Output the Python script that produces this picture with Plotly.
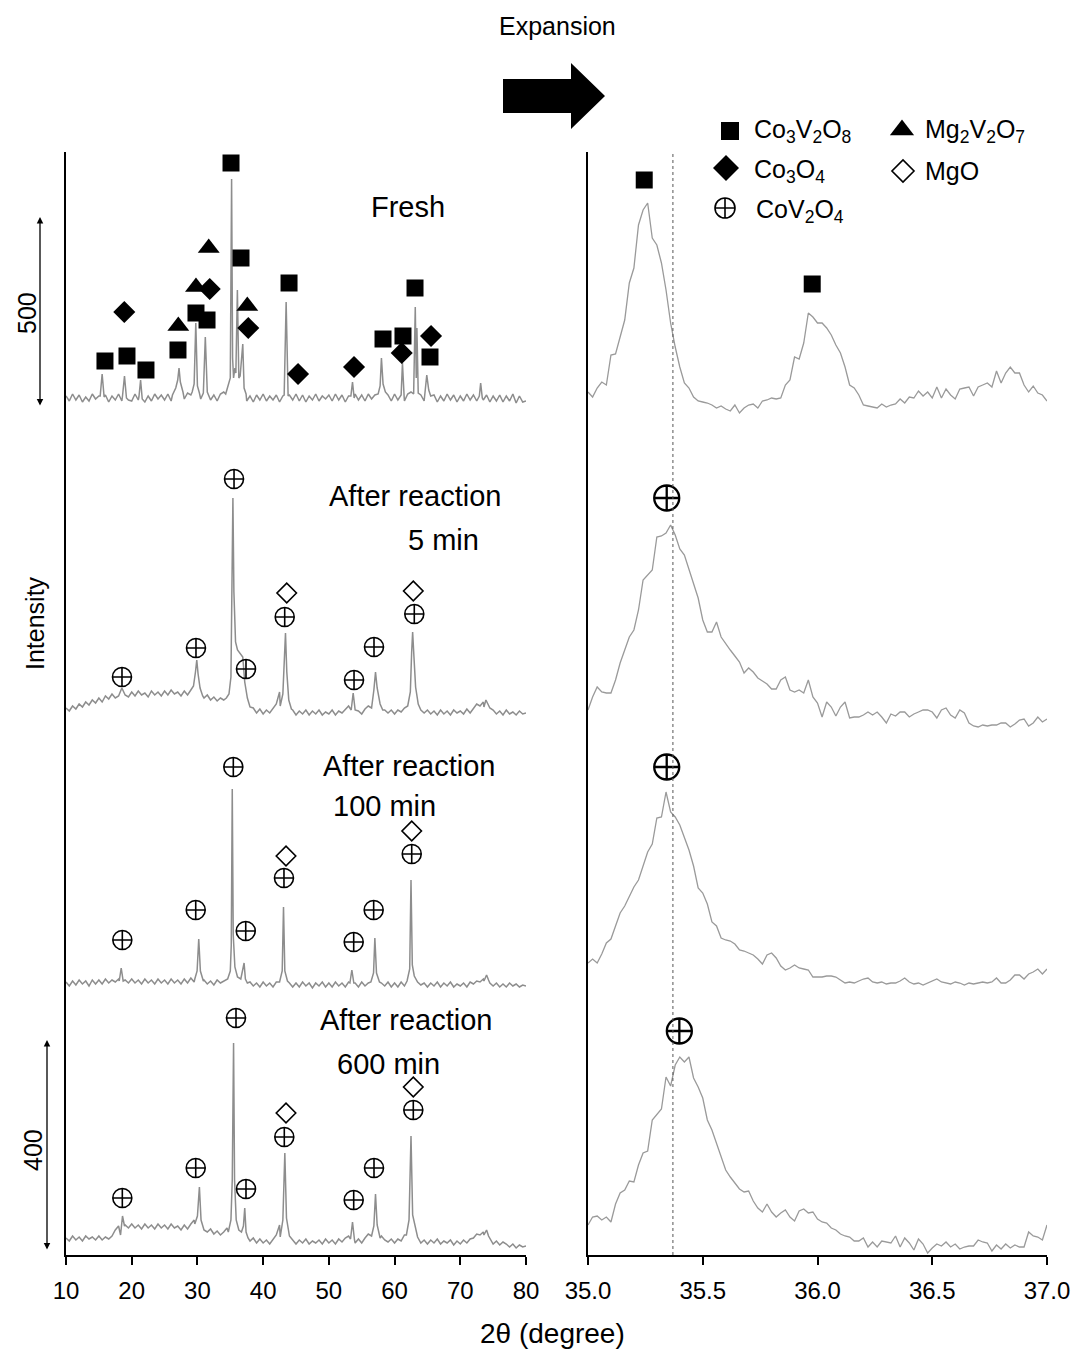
import numpy as np
import plotly.graph_objects as go

W, H = 1081, 1351
FONT = "Liberation Sans, Arial, sans-serif"

# ---------------- Left panel data (2θ 10–80°, intensity in a.u.) ----------------
grid_left = np.round(np.arange(10.0, 80.001, 0.5), 2)

fresh_base = [2, -3, 4, -2, 3, -4, 1, -3, 4, -1,
              2, -3, 3, -4, 2, -2, 4, -3, 3, -2,
              -3, 4, -2, 3, -4, 2, -3, 4, -1, 3,
              -2, 4, -3, 5, 6, 4, -1, 5, 3, 6,
              4, -1, 5, 2, -2, 3, -3, 4, 6, 3,
              8, 6, 4, -2, 3, -3, 2, -4, 3, -2,
              4, -3, 2, -2, 3, -4, 2, -3, 3, -2,
              4, -3, 3, -4, 2, -2, 4, -3, 2, -1,
              3, -3, 4, -2, 3, -4, 2, -3, 4, -2,
              3, -3, 4, -1, 3, 8, 4, -2, 3, -3,
              4, -2, 3, -3, 4, 6, 5, -2, 3, -3,
              4, -2, 3, -4, 2, -3, 4, -2, 3, -4,
              2, -3, 4, -2, 3, -3, 5, -2, 3, -4,
              2, -3, 3, -4, 2, -3, 4, -5, 2, -4,
              -3]
fresh_peaks = [
    [(15.2, 2), (15.5, 24), (15.8, 1)],
    [(18.6, 2), (18.9, 22), (19.2, 0)],
    [(21.1, 1), (21.35, 18), (21.6, -1)],
    [(26.2, 3), (26.7, 10), (27.0, 18), (27.2, 30), (27.4, 16), (27.8, 6)],
    [(29.2, 6), (29.5, 14), (29.75, 75), (30.0, 12), (30.3, 5)],
    [(30.9, 5), (31.2, 61), (31.5, 6)],
    [(34.3, 4), (34.7, 12), (35.0, 20), (35.2, 219), (35.35, 40), (35.5, 20), (35.7, 30),
     (35.85, 25), (36.08, 108), (36.3, 20), (36.5, 22), (36.9, 54), (37.1, 10), (37.4, 4)],
    [(43.2, 3), (43.5, 96), (43.8, 2)],
    [(53.35, 2), (53.6, 16), (53.85, 0)],
    [(57.5, 4), (57.8, 12), (58.0, 40), (58.25, 14), (58.6, 6)],
    [(61.0, 3), (61.2, 35), (61.45, 2)],
    [(62.9, 4), (63.15, 91), (63.3, 20), (63.4, 70), (63.6, 5)],
    [(64.6, 3), (64.9, 23), (65.2, 8), (65.5, 2)],
    [(72.9, 2), (73.1, 15), (73.35, 0)],
]

min5_base = [4, 1, 6, 3, 8, 5, 10, 7, 12, 9,
             14, 10, 16, 13, 18, 14, 20, 16, 19, 15,
             20, 16, 21, 17, 19, 15, 21, 17, 20, 16,
             21, 17, 22, 18, 20, 16, 21, 17, 24, 30,
             26, 18, 14, 17, 12, 15, 11, 14, 12, 16,
             30, 40, 25, 30, 8, 5, 2, 4, -1, 3,
             -2, 2, -1, 3, 8, 20, 4, 1, -2, 2,
             -3, 1, -2, 2, -3, 1, -2, 2, -3, 0,
             -2, 2, -3, 1, -1, 3, 6, 2, -2, 1,
             -2, 3, 6, 10, 22, 10, 5, 2, -1, 2,
             -2, 2, 0, 4, 10, 20, 12, 4, 1, -1,
             2, -2, 1, -3, 2, -2, 1, -3, 2, -1,
             1, -2, 3, -1, 4, 8, 6, 10, 7, 4,
             2, -2, 1, -3, 2, -2, 0, -3, 1, -2,
             -1]
min5_peaks = [
    [(18.0, 16), (18.5, 24), (19.0, 17)],
    [(29.0, 22), (29.4, 26), (29.7, 40), (29.9, 52), (30.1, 38), (30.4, 24), (30.8, 16)],
    [(34.4, 14), (34.8, 18), (35.1, 35), (35.3, 150), (35.4, 214), (35.55, 120), (35.8, 70),
     (36.1, 62), (36.5, 58), (36.9, 55), (37.2, 30), (37.6, 14), (38.0, 5)],
    [(42.6, 6), (43.0, 18), (43.25, 60), (43.4, 79), (43.6, 40), (43.9, 12), (44.3, 3)],
    [(53.4, 2), (53.7, 19), (54.0, 2)],
    [(56.5, 4), (56.85, 22), (57.1, 40), (57.35, 24), (57.8, 8), (58.2, 2)],
    [(62.0, 6), (62.4, 20), (62.6, 60), (62.75, 80), (62.95, 55), (63.2, 25), (63.6, 8), (64.0, 2)],
    [(73.6, 5), (73.9, 12), (74.2, 8)],
]

min100_base = [3, -1, 4, 0, 5, 1, 4, -1, 5, 1,
               5, 1, 6, 2, 5, 3, 6, 1, 5, 2,
               6, 2, 5, 1, 6, 2, 5, 1, 6, 2,
               5, 1, 6, 2, 5, 1, 6, 2, 7, 3,
               6, 2, 5, 1, 4, 0, 5, 2, 4, 6,
               10, 8, 5, 4, 3, -1, 3, -1, 2, -2,
               3, -1, 2, -2, 3, -1, 4, 0, 2, -2,
               2, -2, 3, -1, 2, -3, 2, -1, 3, -2,
               2, -2, 3, -1, 2, -2, 3, 0, 2, -2,
               3, -1, 2, 4, 10, 6, 2, -1, 3, -2,
               2, -2, 3, -1, 4, 5, 8, 3, 0, 2,
               -2, 2, -1, 3, -2, 2, -1, 3, -2, 1,
               -1, 2, -2, 3, 1, 4, 3, 6, 4, 2,
               -1, 2, -2, 1, -2, 2, -1, 1, -2, 0,
               -1]
min100_peaks = [
    [(18.1, 4), (18.4, 17), (18.7, 4)],
    [(29.6, 6), (29.95, 14), (30.2, 46), (30.45, 14), (30.9, 4)],
    [(34.6, 6), (35.0, 14), (35.15, 40), (35.3, 196), (35.45, 50), (35.7, 18), (36.1, 8),
     (36.6, 6), (36.9, 14), (37.1, 22), (37.3, 6), (37.6, 2)],
    [(42.5, 3), (42.9, 14), (43.1, 78), (43.3, 14), (43.7, 4)],
    [(53.2, 2), (53.5, 15), (53.8, 2)],
    [(56.4, 3), (56.8, 12), (57.0, 47), (57.25, 12), (57.7, 3)],
    [(61.9, 4), (62.3, 16), (62.5, 105), (62.7, 20), (63.0, 9), (63.5, 3)],
    [(73.6, 4), (74.0, 10), (74.3, 5)],
]

min600_base = [2, -1, 4, 0, 3, -1, 4, 1, 3, 0,
               4, 0, 3, 1, 4, 10, 14, 11, 15, 12,
               16, 12, 15, 11, 16, 12, 15, 11, 16, 12,
               15, 11, 16, 12, 14, 10, 15, 11, 16, 20,
               22, 14, 10, 8, 11, 6, 9, 5, 8, 12,
               20, 15, 8, 10, 6, 0, -1, 2, -3, 1,
               -3, 0, -4, 1, 5, 15, 3, -1, -4, 0,
               -4, 0, -3, 1, -4, -1, -3, 0, -4, 1,
               -3, 0, -4, 1, -2, 2, 4, 0, -3, 1,
               -3, 2, 6, 12, 20, 10, 4, 0, -2, 1,
               -3, 1, -1, 5, 12, 15, 6, 0, -3, 0,
               -4, 0, -3, 1, -4, -1, -3, 0, -5, -1,
               -4, 0, -3, 1, 2, 6, 5, 8, 6, 2,
               -4, -1, -5, -2, -4, -7, -4, -8, -5, -7,
               -6]
min600_peaks = [
    [(18.3, 5), (18.6, 24), (18.9, 14)],
    [(29.6, 16), (30.0, 24), (30.3, 53), (30.55, 20), (31.0, 10)],
    [(34.7, 8), (35.1, 20), (35.3, 60), (35.5, 197), (35.65, 60), (35.9, 20), (36.3, 10),
     (36.7, 8), (37.0, 14), (37.2, 32), (37.4, 8), (37.7, 2)],
    [(42.6, 3), (43.0, 20), (43.3, 87), (43.55, 22), (44.0, 4)],
    [(53.3, 1), (53.6, 18), (53.9, 0)],
    [(56.5, 4), (56.85, 14), (57.1, 46), (57.35, 15), (57.8, 2)],
    [(61.8, 5), (62.2, 20), (62.5, 104), (62.75, 25), (63.1, 15), (63.5, 3)],
    [(73.6, 5), (74.0, 10), (74.3, 4)],
]

left_offsets = [857, 543, 270, 15]

# ---------------- Right panel data (2θ 35–37°, step 0.02°) ----------------
grid_right = np.round(35.0 + 0.02 * np.arange(101), 2)

r_fresh = [23, 18, 27, 33, 30, 60, 61, 78, 95, 132,
           147, 190, 205, 212, 177, 170, 152, 125, 92, 68,
           48, 32, 27, 18, 14, 13, 12, 10, 7, 9,
           6, 4, 10, 2, 7, 10, 11, 7, 14, 15,
           17, 16, 17, 30, 35, 58, 56, 72, 102, 98,
           92, 92, 87, 80, 70, 62, 48, 30, 27, 20,
           10, 9, 8, 7, 11, 8, 10, 11, 16, 12,
           18, 17, 24, 19, 23, 17, 28, 17, 26, 20,
           16, 26, 27, 28, 19, 28, 30, 32, 28, 44,
           32, 42, 48, 42, 42, 30, 23, 29, 22, 20,
           14]
r_min5 = [25, 38, 48, 43, 42, 42, 55, 72, 85, 98,
          105, 125, 155, 160, 165, 198, 199, 202, 210, 200,
          186, 180, 165, 150, 137, 115, 103, 103, 113, 98,
          91, 85, 79, 73, 62, 67, 63, 57, 54, 51,
          46, 46, 55, 58, 45, 43, 45, 42, 55, 38,
          32, 18, 33, 28, 19, 28, 33, 17, 18, 18,
          20, 23, 20, 23, 18, 12, 21, 19, 23, 23,
          18, 21, 23, 25, 25, 23, 17, 25, 27, 20,
          17, 25, 22, 12, 9, 8, 10, 9, 10, 10,
          12, 12, 8, 11, 15, 16, 9, 12, 18, 13,
          16]
r_min100 = [37, 41, 37, 46, 57, 61, 74, 87, 94, 103,
            113, 120, 134, 148, 156, 182, 183, 208, 188, 183,
            175, 163, 150, 134, 112, 107, 96, 78, 74, 62,
            60, 59, 56, 50, 49, 47, 45, 41, 36, 45,
            47, 42, 34, 30, 32, 35, 32, 31, 30, 23,
            23, 23, 24, 24, 23, 20, 17, 18, 17, 19,
            21, 22, 18, 17, 18, 16, 17, 17, 19, 22,
            18, 16, 17, 15, 17, 19, 21, 18, 17, 16,
            18, 17, 15, 17, 16, 17, 18, 17, 18, 22,
            17, 17, 20, 25, 25, 21, 26, 28, 31, 26,
            31]
r_min600 = [30, 38, 39, 35, 38, 33, 51, 62, 65, 74,
            73, 90, 102, 104, 135, 140, 146, 178, 169, 190,
            198, 193, 198, 177, 168, 157, 135, 125, 112, 100,
            85, 78, 72, 66, 63, 64, 54, 47, 43, 51,
            43, 38, 42, 45, 38, 34, 44, 46, 42, 43,
            36, 33, 32, 27, 25, 21, 19, 18, 14, 14,
            17, 8, 13, 8, 14, 13, 12, 19, 8, 17,
            12, 5, 16, 11, 2, 7, 11, 9, 13, 8,
            11, 6, 8, 9, 9, 15, 13, 12, 4, 10,
            6, 11, 7, 10, 8, 8, 23, 19, 18, 15,
            30]
right_offsets = [840, 520, 255, 0]
ref_line_2theta = 35.37

# ---------------- Phase markers ----------------
co3v2o8_x = [15.93, 19.28, 22.17, 27.04, 29.78, 31.46, 35.11, 36.63, 43.94, 58.24, 61.28, 63.11, 65.39]
co3v2o8_y = [894, 899, 885, 905, 942, 935, 1092, 997, 972, 916, 919, 967, 898]
co3o4_x = [18.87, 31.87, 37.74, 45.31, 53.83, 61.09, 65.55]
co3o4_y = [943, 966, 927, 881, 888, 902, 919]
mg2v2o7_x = [27.09, 29.78, 31.72, 37.59]
mg2v2o7_y = [929, 968, 1007, 949]
cov2o4_x = [18.52, 29.78, 35.57, 37.39, 43.28, 53.83, 56.87, 63.0,
            18.57, 29.74, 35.46, 37.35, 43.17, 53.78, 56.82, 62.61,
            18.57, 29.74, 35.87, 37.39, 43.22, 53.78, 56.87, 62.85]
cov2o4_y = [578, 607, 776, 586, 638, 575, 608, 641,
            315, 345, 488, 324, 377, 313, 345, 401,
            57, 87, 237, 66, 118, 55, 87, 145]
mgo_x = [43.59, 62.85, 43.48, 62.61, 43.48, 62.85]
mgo_y = [662, 664, 399, 424, 142, 168]

r_co3v2o8_x = [35.245, 35.977]
r_co3v2o8_y = [1075, 971]
r_cov2o4_x = [35.343, 35.343, 35.398]
r_cov2o4_y = [757, 488, 224]

sample_labels = [("Fresh", 408, 207), ("After reaction", 415, 496), ("5 min", 443, 540),
                 ("After reaction", 409, 766), ("100 min", 384, 806),
                 ("After reaction", 406, 1020), ("600 min", 388, 1064)]


def build(base, peaks):
    spans = [(p[0][0], p[-1][0]) for p in peaks]
    pts = [(x, y) for x, y in zip(grid_left, base)
           if not any(a <= x <= b for a, b in spans)]
    for p in peaks:
        pts.extend(p)
    pts.sort()
    return [p[0] for p in pts], [p[1] for p in pts]


fig = go.Figure()

LC = "#8d8d8d"
for base, peaks, off in zip([fresh_base, min5_base, min100_base, min600_base],
                            [fresh_peaks, min5_peaks, min100_peaks, min600_peaks],
                            left_offsets):
    xs, ys = build(base, peaks)
    fig.add_trace(go.Scatter(x=xs, y=[v + off for v in ys], mode="lines",
                             line=dict(color=LC, width=1.5), xaxis="x", yaxis="y",
                             hoverinfo="skip", showlegend=False))

for vals, off in zip([r_fresh, r_min5, r_min100, r_min600], right_offsets):
    fig.add_trace(go.Scatter(x=grid_right, y=[v + off for v in vals], mode="lines",
                             line=dict(color="#9a9a9a", width=1.3), xaxis="x2", yaxis="y2",
                             hoverinfo="skip", showlegend=False))


def mk(x, y, symbol, size, ax="x", ay="y", lw=0):
    fig.add_trace(go.Scatter(
        x=x, y=y, mode="markers", xaxis=ax, yaxis=ay, cliponaxis=False,
        marker=dict(symbol=symbol, size=size, color="black",
                    line=dict(color="black", width=lw)),
        hoverinfo="skip", showlegend=False))


mk(co3v2o8_x, co3v2o8_y, "square", 17)
mk(co3o4_x, co3o4_y, "diamond", 17)
mk(mg2v2o7_x, mg2v2o7_y, "triangle-up", 19)
mk(cov2o4_x, cov2o4_y, "circle-cross-open", 19, lw=1.6)
mk(mgo_x, mgo_y, "diamond-open", 15, lw=1.6)
mk(r_co3v2o8_x, r_co3v2o8_y, "square", 17, ax="x2", ay="y2")
mk(r_cov2o4_x, r_cov2o4_y, "circle-cross-open", 25, ax="x2", ay="y2", lw=2.3)

# legend keys (overlay pixel axes)
mk([730], [131], "square", 18, ax="x3", ay="y3")
mk([902], [130], "triangle-up", 21, ax="x3", ay="y3")
mk([726], [168], "diamond", 20, ax="x3", ay="y3")
mk([903], [171], "diamond-open", 17, ax="x3", ay="y3", lw=1.6)
mk([725], [208], "circle-cross-open", 20, ax="x3", ay="y3", lw=1.6)

annotations = []


def txt(s, x, y, size=23, angle=0, xanchor="center"):
    annotations.append(dict(text=s, x=x, y=y, xref="x3", yref="y3", showarrow=False,
                            textangle=angle, xanchor=xanchor, yanchor="middle",
                            font=dict(family=FONT, size=size, color="black")))


for s, x, y in sample_labels:
    txt(s, x, y, size=29)

txt("Co<sub>3</sub>V<sub>2</sub>O<sub>8</sub>", 752, 131, size=25, xanchor="left")
txt("Mg<sub>2</sub>V<sub>2</sub>O<sub>7</sub>", 923, 131, size=25, xanchor="left")
txt("Co<sub>3</sub>O<sub>4</sub>", 752, 171, size=25, xanchor="left")
txt("MgO", 923, 171, size=25, xanchor="left")
txt("CoV<sub>2</sub>O<sub>4</sub>", 754, 211, size=25, xanchor="left")
txt("Expansion", 557, 26, size=25)
txt("2θ (degree)", 552, 1333, size=28)
txt("Intensity", 35, 623, size=25, angle=-90)
txt("500", 27, 313, size=25, angle=-90)
txt("400", 33, 1150, size=25, angle=-90)

for x, y0, y1 in [(40, 217, 407), (47, 1040, 1251)]:
    annotations.append(dict(text="", x=x, y=y0, ax=x, ay=y1, xref="x3", yref="y3",
                            axref="x3", ayref="y3", showarrow=True, arrowhead=2,
                            arrowside="end+start", arrowsize=1, arrowwidth=1.3,
                            arrowcolor="black"))

shapes = [
    dict(type="path", xref="x3", yref="y3",
         path="M 503 79 L 571 79 L 571 63 L 605 96 L 571 129 L 571 113 L 503 113 Z",
         fillcolor="black", line=dict(color="black", width=0)),
    dict(type="line", xref="x2", yref="y2", x0=ref_line_2theta, x1=ref_line_2theta,
         y0=0, y1=1103, line=dict(color="#555555", width=1, dash="dot")),
]

ydom = [96 / H, 1199 / H]
axis_common = dict(showgrid=False, zeroline=False, showline=True, linecolor="black",
                   linewidth=1.5, automargin=False)
tick_common = dict(ticks="outside", ticklen=8, tickwidth=1.5, tickcolor="black",
                   ticklabelstandoff=5, tickfont=dict(size=24, family=FONT, color="black"))
fig.update_layout(
    template="none",
    width=W, height=H, autosize=False,
    margin=dict(l=0, r=0, t=0, b=0, pad=0),
    paper_bgcolor="white", plot_bgcolor="rgba(0,0,0,0)",
    showlegend=False,
    font=dict(family=FONT, color="black"),
    xaxis=dict(domain=[66 / W, 526 / W], range=[10, 80], anchor="y",
               tickvals=[10, 20, 30, 40, 50, 60, 70, 80], **tick_common, **axis_common),
    yaxis=dict(domain=ydom, range=[0, 1103], anchor="x", showticklabels=False, ticks="",
               **axis_common),
    xaxis2=dict(domain=[588 / W, 1047 / W], range=[35, 37], anchor="y2",
                tickvals=[35, 35.5, 36, 36.5, 37],
                ticktext=["35.0", "35.5", "36.0", "36.5", "37.0"],
                **tick_common, **axis_common),
    yaxis2=dict(domain=ydom, range=[0, 1103], anchor="x2", showticklabels=False, ticks="",
                **axis_common),
    xaxis3=dict(domain=[0, 1], range=[0, W], anchor="y3", visible=False, automargin=False),
    yaxis3=dict(domain=[0, 1], range=[H, 0], anchor="x3", visible=False, automargin=False),
    annotations=annotations,
    shapes=shapes,
)

fig.write_html("out.html")
